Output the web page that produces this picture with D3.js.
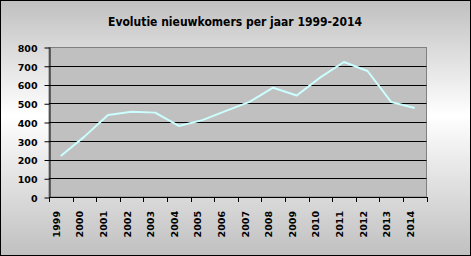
<!DOCTYPE html>
<html><head><meta charset="utf-8">
<script src="https://cdn.jsdelivr.net/npm/d3@7"></script>
<style>html,body{margin:0;padding:0;background:#fff;}svg{display:block;}</style>
</head><body>
<svg id="c" width="471" height="256"></svg>
<script>
const years = ["1999","2000","2001","2002","2003","2004","2005","2006","2007","2008","2009","2010","2011","2012","2013","2014"];
const values = [219, 322, 437, 455, 450, 379, 410, 459, 507, 583, 541, 638, 720, 672, 507, 475];
const yTicks = [0, 100, 200, 300, 400, 500, 600, 700, 800];
const title = "Evolutie nieuwkomers per jaar 1999-2014";

const W = 471, H = 256;
const m = {left: 49, right: 426.5, top: 47, bottom: 197};
const svg = d3.select("#c");

const defs = svg.append("defs");
const g = defs.append("linearGradient").attr("id","bg").attr("x1",0).attr("y1",0).attr("x2",0).attr("y2",1);
g.append("stop").attr("offset","0").attr("stop-color","#c0c0c0");
g.append("stop").attr("offset","0.45").attr("stop-color","#ffffff");
g.append("stop").attr("offset","1").attr("stop-color","#c0c0c0");

svg.append("rect").attr("x",0.5).attr("y",0.5).attr("width",W-1).attr("height",H-1)
  .attr("fill","url(#bg)").attr("stroke","#000").attr("stroke-width",1);

svg.append("text").attr("x",235).attr("y",26).attr("text-anchor","middle")
  .attr("font-family","DejaVu Sans Condensed, DejaVu Sans").attr("font-weight","bold")
  .attr("font-size","12px").attr("fill","#000").text(title);

const x = d3.scaleBand().domain(years).range([m.left, m.right]);
const y = d3.scaleLinear().domain([0, 800]).range([m.bottom, m.top]);

svg.append("rect").attr("x",m.left).attr("y",m.top+0.5).attr("width",m.right-m.left).attr("height",m.bottom-m.top-0.5)
  .attr("fill","#c0c0c0").attr("stroke","#808080").attr("stroke-width",1);

// gridlines
svg.append("g").selectAll("line").data(yTicks.filter(d=>d>0 && d<800)).join("line")
  .attr("x1",m.left).attr("x2",m.right).attr("y1",d=>Math.round(y(d))+0.5).attr("y2",d=>Math.round(y(d))+0.5)
  .attr("stroke","#000").attr("stroke-width",1);

// y axis
const ya = svg.append("g").attr("transform",`translate(${m.left+0.5},0)`)
  .call(d3.axisLeft(y).tickValues(yTicks).tickSize(5).tickPadding(7).tickSizeOuter(0));
ya.select(".domain").attr("stroke","#000");
ya.selectAll(".tick line").attr("stroke","#000").attr("transform","translate(0,0.5)");
ya.selectAll(".tick text").attr("font-family","DejaVu Sans").attr("font-weight","bold")
  .attr("font-size","9.5px").attr("fill","#000").attr("dy","0.45em");

// x axis
svg.append("line").attr("x1",m.left).attr("x2",m.right+0.5).attr("y1",m.bottom+0.5).attr("y2",m.bottom+0.5).attr("stroke","#000");
const bounds = years.map(d=>x(d)).concat([m.right]);
svg.append("g").selectAll("line").data(bounds).join("line")
  .attr("x1",d=>Math.round(d)+0.5).attr("x2",d=>Math.round(d)+0.5).attr("y1",m.bottom).attr("y2",m.bottom+5)
  .attr("stroke","#000");
svg.append("g").selectAll("text").data(years).join("text")
  .attr("transform",d=>`translate(${x(d)+x.bandwidth()/2-1},211) rotate(-90)`)
  .attr("text-anchor","end").attr("font-family","DejaVu Sans").attr("font-weight","bold")
  .attr("font-size","9.5px").attr("fill","#000").text(d=>d);

// line
const line = d3.line().x((d,i)=>x(years[i])+x.bandwidth()/2).y(d=>y(d));
svg.append("path").datum(values).attr("d",line).attr("fill","none")
  .attr("stroke","#ccffff").attr("stroke-width",2).attr("stroke-linejoin","round");
</script>
</body></html>
